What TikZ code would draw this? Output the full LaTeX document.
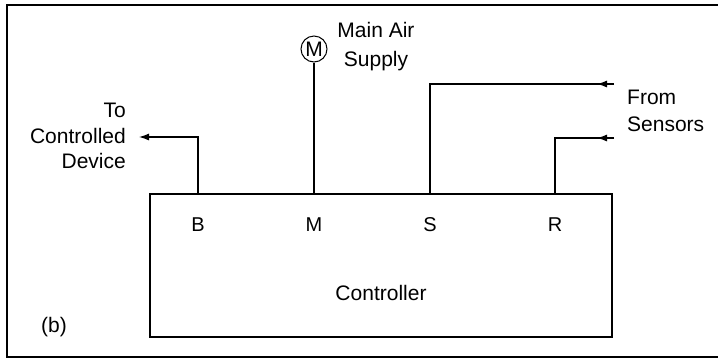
\documentclass[tikz,border=0pt]{standalone}
\usepackage{fontspec}
\setmainfont{Liberation Sans}
\usetikzlibrary{arrows.meta,positioning}
\tikzset{
  lbl/.style   = {inner sep=0pt, font=\fontsize{21}{25.5}\selectfont},
  port/.style  = {inner sep=0pt, font=\fontsize{20}{24}\selectfont},
  wire/.style  = {line width=1.2pt},
  arr/.style   = {-{Latex[length=10pt,width=7pt]}, line width=1.2pt}
}

\begin{document}
\begin{tikzpicture}[x=1pt, y=-1pt,
  ctrlbox/.style={draw, line width=1.2pt, minimum width=462pt,
                  minimum height=143pt, inner sep=0pt},
  meter/.style={draw, circle, line width=1pt, minimum size=26pt,
                inner sep=0pt, font=\fontsize{21}{24}\selectfont},
  frame/.style={line width=2.6pt}
]
\useasboundingbox (0,0) rectangle (718,360);

% outer frame, open to the right
\coordinate (fTL) at (7,5);
\coordinate (fBL) at (7,357);
\coordinate (fTR) at (718,5);
\coordinate (fBR) at (718,357);
\draw[frame] (fTR) -- (fTL) -- (fBL) -- (fBR);

\node[ctrlbox] (ctrl) at (381,265.5) {};
\node[lbl] (ctrlname) at (381,293) {Controller};
\node[lbl] (tag) at (54,327) {(b)};

\node[port] (pB) at (198,225) {B};
\node[port] (pM) at (314,225) {M};
\node[port] (pS) at (430,225) {S};
\node[port] (pR) at (555,225) {R};

\node[meter] (supply) at (314,49) {M};
\node[lbl, align=center] (supplytxt) at (376,47) {Main Air\\[3.5pt]Supply};
\node[lbl, align=right, anchor=east] (devtxt) at (126,136) {To\\Controlled\\Device};
\node[lbl, align=left, anchor=west] (senstxt) at (627,111) {From\\[1.5pt]Sensors};

\coordinate (devTip) at (139,137);
\coordinate (sEnd)   at (614,84);
\coordinate (sTip)   at (597,84);
\coordinate (rEnd)   at (614,138);
\coordinate (rTip)   at (597,138);

\draw[arr]  (ctrl.north -| pB) |- (devTip);
\draw[wire] (ctrl.north -| pM) -- (supply.south);
\draw[wire] (ctrl.north -| pS) |- (sEnd);
\draw[arr]  (sEnd) -- (sTip);
\draw[wire] (ctrl.north -| pR) |- (rEnd);
\draw[arr]  (rEnd) -- (rTip);

\end{tikzpicture}
\end{document}
